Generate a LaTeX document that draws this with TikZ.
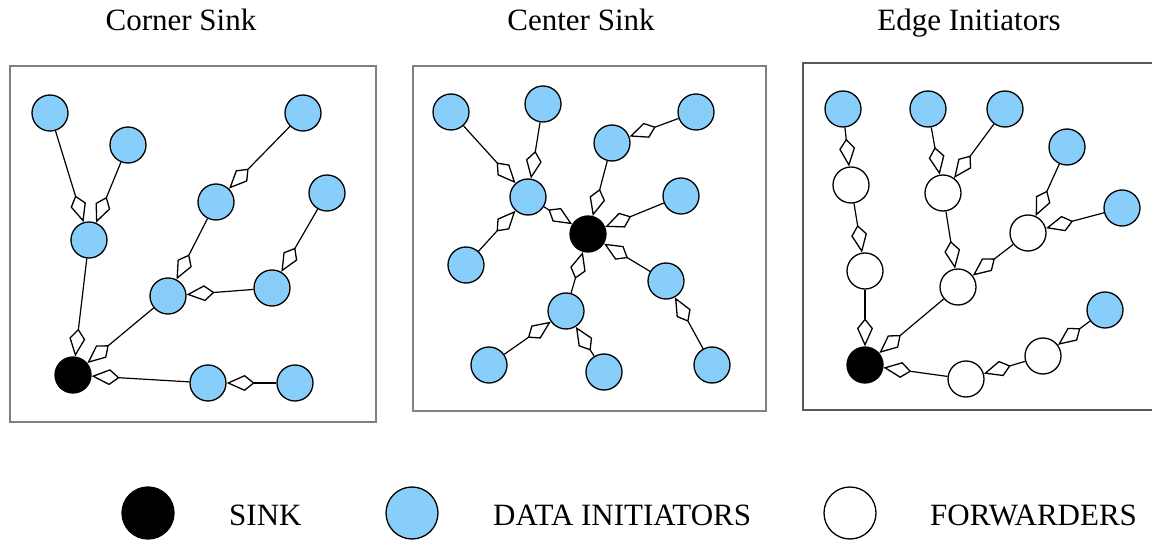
\documentclass[tikz,border=0pt]{standalone}
\usepackage{fontspec}
\setmainfont{Liberation Serif}
\usetikzlibrary{arrows.meta}
\definecolor{skyb}{RGB}{135,206,250}
\tikzset{
  nd/.style={circle, draw=black, line width=1.3pt, minimum size=36pt, inner sep=0pt},
  di/.style={nd, fill=skyb},
  fw/.style={nd, fill=white},
  sk/.style={nd, fill=black},
  lgd/.style={circle, draw=black, line width=1.3pt, minimum size=52pt, inner sep=0pt},
  kt/.tip={Kite[open, length=28pt, width=16pt, inset=10pt, line width=1.3pt]},
  lnk/.style={line width=1.2pt, -kt},
  panel/.style={draw=gray, line width=2pt},
  ttl/.style={font=\fontsize{31}{37}\selectfont, anchor=base, inner sep=0pt},
  lgt/.style={font=\fontsize{31}{37}\selectfont, anchor=base west, inner sep=0pt},
}
\begin{document}
\begin{tikzpicture}[x=1pt,y=-1pt]
\useasboundingbox (0,0) rectangle (1152,540);
\clip (0,0) rectangle (1152,540);
% titles
\node[ttl] (t1) at (181,31) {Corner Sink};
\node[ttl] (t2) at (581,31) {Center Sink};
\node[ttl] (t3) at (969,31) {Edge Initiators};
% panels
\draw[panel] (10,66) rectangle (376,422);
\draw[panel] (413,66) rectangle (766,411);
\draw[panel, draw=black!65] (803,63) rectangle (1170,410);

% ---- Panel 1: Corner Sink
\node[di] (a1) at (50,113) {};
\node[di] (a2) at (128,145) {};
\node[di] (a3) at (89,240) {};
\node[di] (a4) at (303,113) {};
\node[di] (a5) at (216,202) {};
\node[di] (a6) at (327,193) {};
\node[di] (a7) at (168,296) {};
\node[di] (a8) at (272,288) {};
\node[sk] (s1) at (73,375) {};
\node[di] (a9) at (208,383) {};
\node[di] (a10) at (295,383) {};
\draw[lnk] (a1) -- (a3);
\draw[lnk] (a2) -- (a3);
\draw[lnk] (a3) -- (s1);
\draw[lnk] (a4) -- (a5);
\draw[lnk] (a5) -- (a7);
\draw[lnk] (a6) -- (a8);
\draw[lnk] (a8) -- (a7);
\draw[lnk] (a7) -- (s1);
\draw[lnk] (a9) -- (s1);
\draw[lnk] (a10) -- (a9);

% ---- Panel 2: Center Sink
\node[di] (b1) at (451,112) {};
\node[di] (b2) at (543,104) {};
\node[di] (b3) at (696,112) {};
\node[di] (b4) at (612,143) {};
\node[di] (b5) at (528,197) {};
\node[di] (b6) at (681,196) {};
\node[sk] (s2) at (588,234) {};
\node[di] (b7) at (466,265) {};
\node[di] (b8) at (666,281) {};
\node[di] (b9) at (566,311) {};
\node[di] (b10) at (489,365) {};
\node[di] (b11) at (604,372) {};
\node[di] (b12) at (712,365) {};
\draw[lnk] (b1) -- (b5);
\draw[lnk] (b2) -- (b5);
\draw[lnk] (b7) -- (b5);
\draw[lnk] (b5) -- (s2);
\draw[lnk] (b3) -- (b4);
\draw[lnk] (b4) -- (s2);
\draw[lnk] (b6) -- (s2);
\draw[lnk] (b8) -- (s2);
\draw[lnk] (b12) -- (b8);
\draw[lnk] (b9) -- (s2);
\draw[lnk] (b10) -- (b9);
\draw[lnk] (b11) -- (b9);

% ---- Panel 3: Edge Initiators
\node[di] (c1) at (843,109) {};
\node[di] (c2) at (928,109) {};
\node[di] (c3) at (1005,109) {};
\node[di] (c4) at (1067,147) {};
\node[di] (c5) at (1122,208) {};
\node[di] (c6) at (1105,310) {};
\node[fw] (f1) at (851,185) {};
\node[fw] (f2) at (943,193) {};
\node[fw] (f3) at (1028,233) {};
\node[fw] (f4) at (865,271) {};
\node[fw] (f5) at (958,287) {};
\node[sk] (s3) at (865,365) {};
\node[fw] (f6) at (1043,356) {};
\node[fw] (f7) at (966,379) {};
\draw[lnk] (c1) -- (f1);
\draw[lnk] (f1) -- (f4);
\draw[lnk] (f4) -- (s3);
\draw[lnk] (c2) -- (f2);
\draw[lnk] (c3) -- (f2);
\draw[lnk] (f2) -- (f5);
\draw[lnk] (c4) -- (f3);
\draw[lnk] (c5) -- (f3);
\draw[lnk] (f3) -- (f5);
\draw[lnk] (f5) -- (s3);
\draw[lnk] (c6) -- (f6);
\draw[lnk] (f6) -- (f7);
\draw[lnk] (f7) -- (s3);

% ---- Legend
\node[lgd, fill=black] (l1) at (148,513) {};
\node[lgt] (lt1) at (229,525) {SINK};
\node[lgd, fill=skyb] (l2) at (412,513) {};
\node[lgt] (lt2) at (493,525) {DATA INITIATORS};
\node[lgd, fill=white] (l3) at (850,513) {};
\node[lgt] (lt3) at (930,525) {FORWARDERS};
\end{tikzpicture}
\end{document}
